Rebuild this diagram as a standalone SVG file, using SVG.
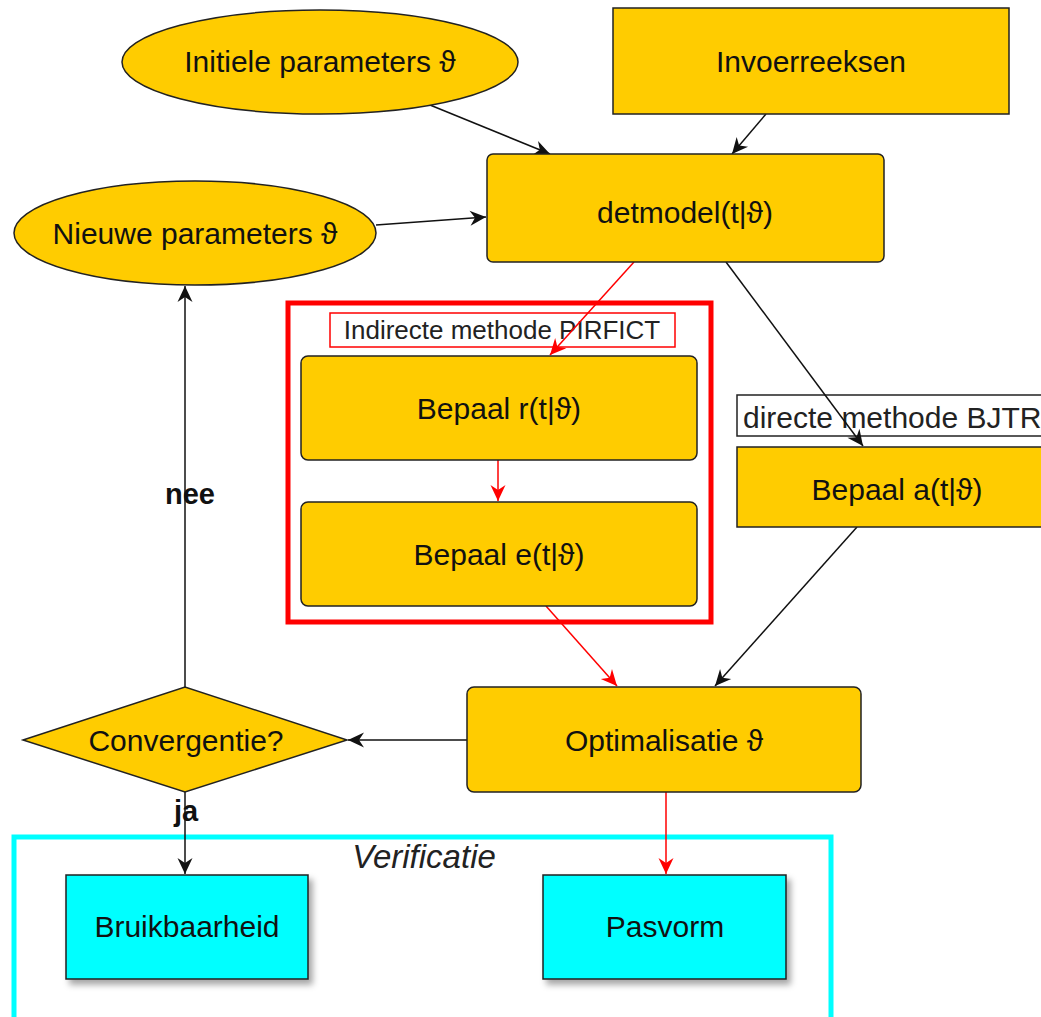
<svg xmlns="http://www.w3.org/2000/svg" width="1041" height="1017" viewBox="0 0 1041 1017">
<style>
  .n { fill: #FFCC00; stroke: #222; stroke-width: 1.5; }
  .c { fill: #00FFFF; stroke: #222; stroke-width: 1.5; }
  .t { font-family: "Liberation Sans", Arial, sans-serif; font-size: 30px; fill: #111; text-anchor: middle; }
  .lb { font-family: "Liberation Sans", Arial, sans-serif; font-weight: bold; font-size: 29px; fill: #111; text-anchor: middle; }
  .k { fill: none; stroke: #111; stroke-width: 1.5; }
  .r { fill: none; stroke: #FF0000; stroke-width: 1.5; }
</style>
<defs>
  <marker id="ak" viewBox="-17 -8 18 16" refX="0" refY="0" markerWidth="18" markerHeight="16" markerUnits="userSpaceOnUse" orient="auto">
    <path d="M0,0 L-16,-7.5 L-11,0 L-16,7.5 Z" fill="#111"/>
  </marker>
  <marker id="ar" viewBox="-17 -8 18 16" refX="0" refY="0" markerWidth="18" markerHeight="16" markerUnits="userSpaceOnUse" orient="auto">
    <path d="M0,0 L-16,-7.5 L-11,0 L-16,7.5 Z" fill="#FF0000"/>
  </marker>
  <filter id="sh" x="-10%" y="-10%" width="130%" height="140%">
    <feDropShadow dx="4" dy="5" stdDeviation="3" flood-color="#000" flood-opacity="0.35"/>
  </filter>
</defs>

<g id="group-indirect">
  <rect x="288" y="303" width="423" height="319" fill="none" stroke="#FF0000" stroke-width="5"/>
  <rect x="330" y="313" width="345" height="34" fill="#fff" stroke="#FF0000" stroke-width="1.5"/>
  <text x="502" y="339" font-family="Liberation Sans, Arial, sans-serif" font-size="26" fill="#222" text-anchor="middle">Indirecte methode PIRFICT</text>
</g>

<g id="group-verificatie">
  <rect x="14" y="837" width="817" height="200" fill="none" stroke="#00FFFF" stroke-width="5"/>
  <text x="424" y="868" font-family="Liberation Sans, Arial, sans-serif" font-size="33" font-style="italic" fill="#222" text-anchor="middle">Verificatie</text>
</g>

<g id="label-directe">
  <rect x="737" y="395" width="320" height="41" fill="#fff" stroke="#222" stroke-width="1.5"/>
  <text x="743" y="428" font-family="Liberation Sans, Arial, sans-serif" font-size="30" fill="#222">directe methode BJTR</text>
</g>

<g id="connectors">
  <line class="k" x1="430" y1="105" x2="550" y2="154" marker-end="url(#ak)"/>
  <line class="k" x1="766" y1="114" x2="732" y2="154" marker-end="url(#ak)"/>
  <line class="k" x1="376" y1="225" x2="486" y2="217" marker-end="url(#ak)"/>
  <line class="r" x1="634" y1="262" x2="550" y2="355" marker-end="url(#ar)"/>
  <line class="k" x1="726" y1="262" x2="863" y2="446" marker-end="url(#ak)"/>
  <line class="r" x1="498" y1="460" x2="498" y2="501" marker-end="url(#ar)"/>
  <line class="r" x1="546" y1="606" x2="617" y2="686" marker-end="url(#ar)"/>
  <line class="k" x1="857" y1="527" x2="715" y2="686" marker-end="url(#ak)"/>
  <line class="k" x1="467" y1="740" x2="348" y2="740" marker-end="url(#ak)"/>
  <line class="k" x1="185" y1="687" x2="185" y2="286" marker-end="url(#ak)"/>
  <line class="k" x1="185" y1="792" x2="185" y2="874" marker-end="url(#ak)"/>
  <line class="r" x1="666" y1="792" x2="666" y2="874" marker-end="url(#ar)"/>
  <text class="lb" x="190" y="504">nee</text>
  <text class="lb" x="186" y="821">ja</text>
</g>

<g id="node-initiele">
  <ellipse class="n" cx="320" cy="62" rx="198" ry="52"/>
  <text class="t" x="320" y="72">Initiele parameters ϑ</text>
</g>
<g id="node-invoer">
  <rect class="n" x="613" y="8" width="396" height="106"/>
  <text class="t" x="811" y="72">Invoerreeksen</text>
</g>
<g id="node-detmodel">
  <rect class="n" x="487" y="154" width="397" height="108" rx="6"/>
  <text class="t" x="685" y="223">detmodel(t|ϑ)</text>
</g>
<g id="node-nieuwe">
  <ellipse class="n" cx="195" cy="233" rx="181" ry="52"/>
  <text class="t" x="195" y="244">Nieuwe parameters ϑ</text>
</g>
<g id="node-bepaal-r">
  <rect class="n" x="301" y="356" width="396" height="104" rx="7"/>
  <text class="t" x="499" y="419">Bepaal r(t|ϑ)</text>
</g>
<g id="node-bepaal-e">
  <rect class="n" x="301" y="502" width="396" height="104" rx="7"/>
  <text class="t" x="499" y="565">Bepaal e(t|ϑ)</text>
</g>
<g id="node-bepaal-a">
  <rect class="n" x="737" y="447" width="320" height="80"/>
  <text class="t" x="897" y="500">Bepaal a(t|ϑ)</text>
</g>
<g id="node-optimalisatie">
  <rect class="n" x="467" y="687" width="394" height="105" rx="7"/>
  <text class="t" x="664" y="751">Optimalisatie ϑ</text>
</g>
<g id="node-convergentie">
  <polygon class="n" points="23,740 185,687 347,740 185,792"/>
  <text class="t" x="186" y="751">Convergentie?</text>
</g>
<g id="node-bruikbaarheid">
  <rect class="c" x="66" y="875" width="242" height="104" filter="url(#sh)"/>
  <text class="t" x="187" y="937">Bruikbaarheid</text>
</g>
<g id="node-pasvorm">
  <rect class="c" x="543" y="875" width="243" height="104" filter="url(#sh)"/>
  <text class="t" x="665" y="937">Pasvorm</text>
</g>
</svg>
